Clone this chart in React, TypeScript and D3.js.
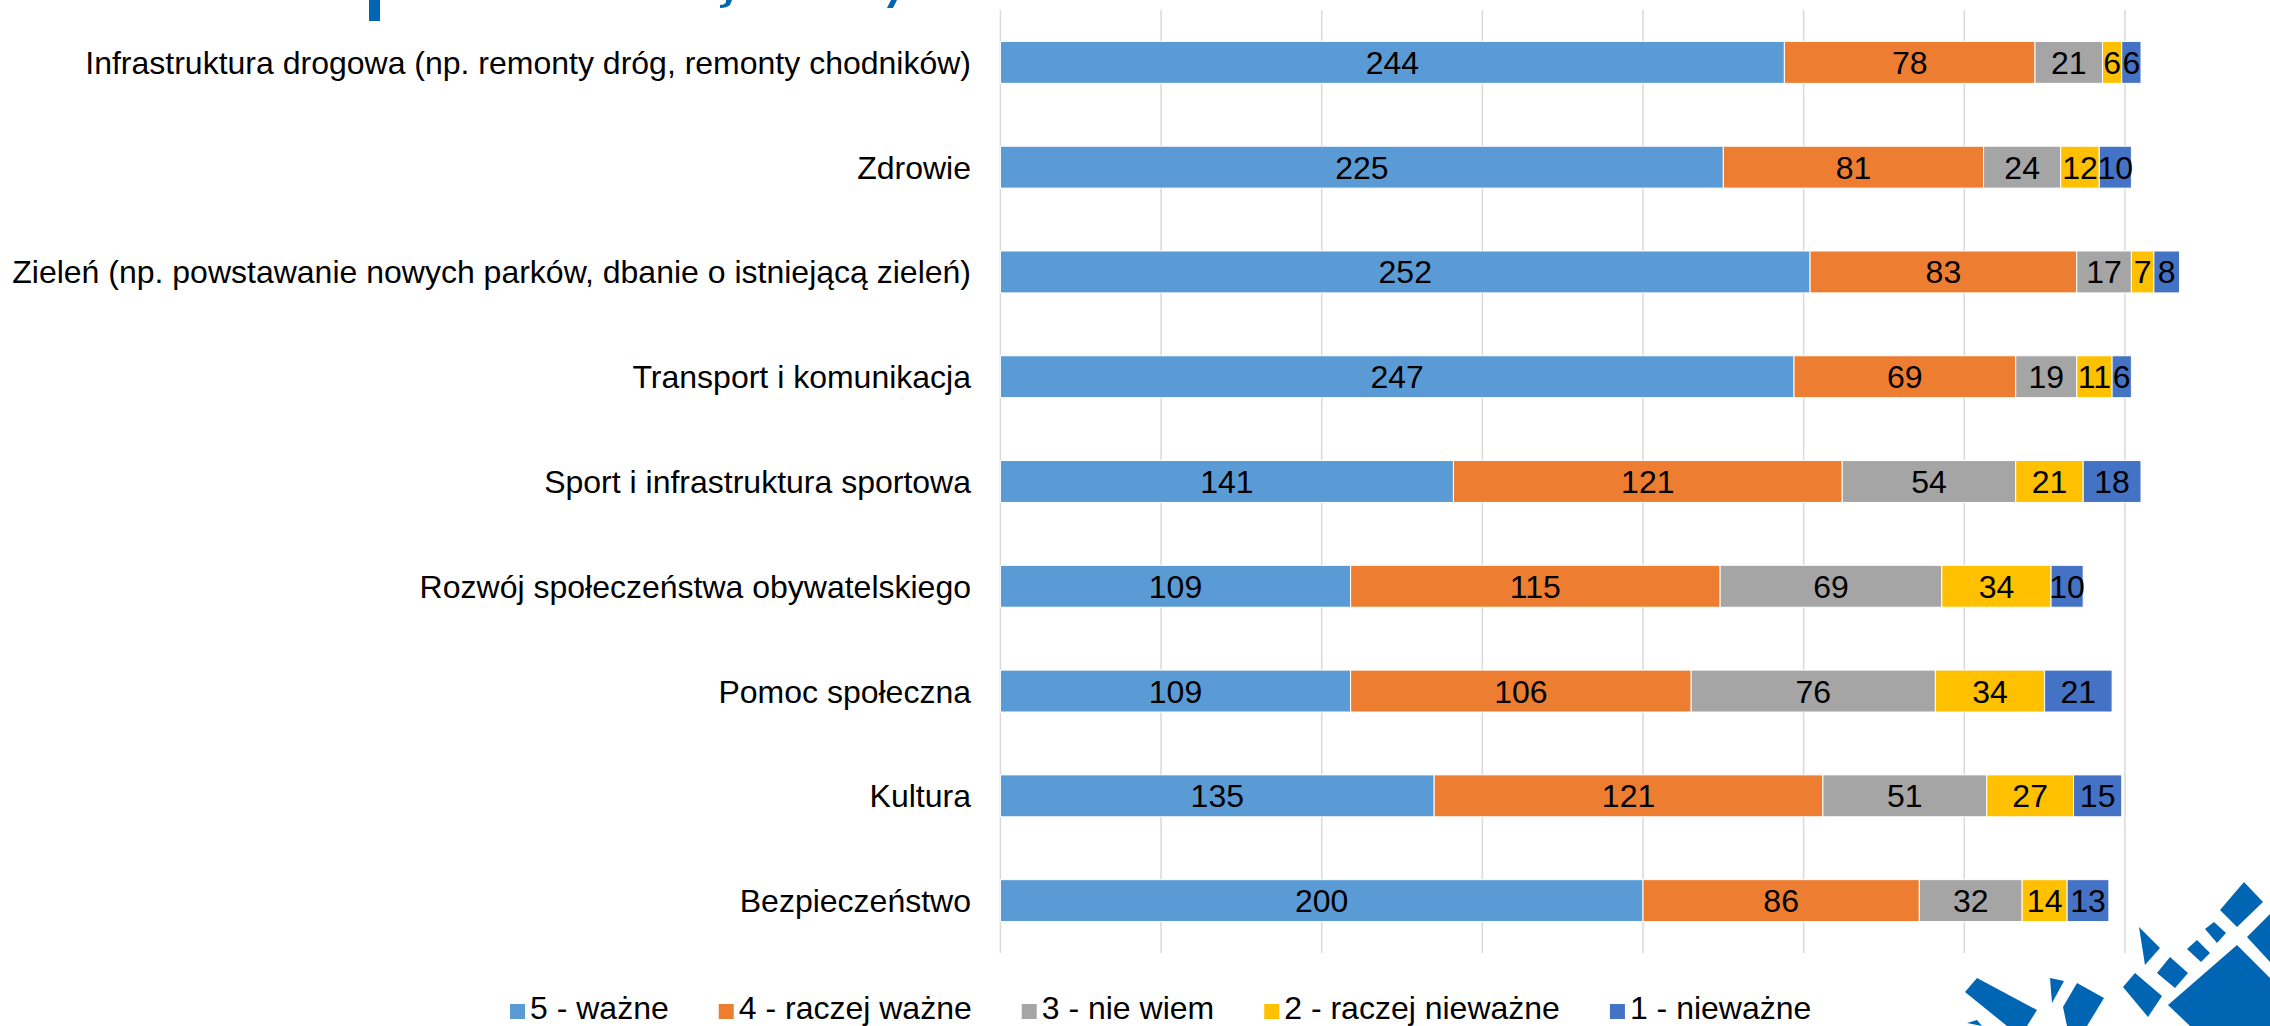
import * as d3 from "d3";

const categories = [
  "Infrastruktura drogowa (np. remonty dróg, remonty chodników)",
  "Zdrowie",
  "Zieleń (np. powstawanie nowych parków, dbanie o istniejącą zieleń)",
  "Transport i komunikacja",
  "Sport i infrastruktura sportowa",
  "Rozwój społeczeństwa obywatelskiego",
  "Pomoc społeczna",
  "Kultura",
  "Bezpieczeństwo",
];

const seriesNames = ["5 - ważne", "4 - raczej ważne", "3 - nie wiem", "2 - raczej nieważne", "1 - nieważne"];
const seriesColors = ["#5b9bd5", "#ed7d31", "#a5a5a5", "#ffc000", "#4472c4"];

const wazne = [244, 225, 252, 247, 141, 109, 109, 135, 200];
const raczejWazne = [78, 81, 83, 69, 121, 115, 106, 121, 86];
const nieWiem = [21, 24, 17, 19, 54, 69, 76, 51, 32];
const raczejNiewazne = [6, 12, 7, 11, 21, 34, 34, 27, 14];
const niewazne = [6, 10, 8, 6, 18, 10, 21, 15, 13];

const xTicks = [0, 50, 100, 150, 200, 250, 300, 350, 400];

const W = 2270;
const H = 1026;
const FONT = "'Liberation Sans', Arial, sans-serif";
const LOGO = "#0066b3";

function textWidth(s: string, size: number) {
  const ctx = document.createElement("canvas").getContext("2d")!;
  ctx.font = `${size}px ${FONT}`;
  return ctx.measureText(s).width;
}

export default function App() {
  const margin = { top: 10, bottom: 953, left: 1000.4 };

  const rows = categories.map((c, i) => ({
    category: c,
    values: [wazne[i], raczejWazne[i], nieWiem[i], raczejNiewazne[i], niewazne[i]],
  }));

  const x = d3.scaleLinear().domain([0, 400]).range([margin.left, margin.left + 400 * 3.213]);
  const y = d3
    .scaleBand()
    .domain(categories)
    .range([margin.top, margin.bottom])
    .paddingInner(0.6)
    .paddingOuter(0.3);

  const stack = d3
    .stack<number[]>()
    .keys(seriesNames.map((_, i) => String(i)))
    .value((d, k) => d[+k]);
  const stacked = stack(rows.map((r) => r.values));

  // legend layout
  const legendFont = 32;
  let lx = 510;
  const legendItems = seriesNames.map((name, i) => {
    const item = { name, color: seriesColors[i], x: lx };
    lx += 15 + 5 + textWidth(name, legendFont) + 50;
    return item;
  });

  return (
    <div style={{ position: "absolute", left: 0, top: 0 }}>
      <svg width={W} height={H} style={{ display: "block", background: "#fff" }} fontFamily={FONT}>
        {/* fragments of cut-off title */}
        <rect x={369} y={0} width={11} height={21} fill={LOGO} />
        <path d="M726,0 L732,0 L730,5 Q727,8 720,8 L720,5 Q725,5 726,2 Z" fill={LOGO} />
        <path d="M891,0 L897,0 L893,8 L887,8 Z" fill={LOGO} />

        {/* grid */}
        {xTicks.map((t) => (
          <line key={t} x1={x(t)} x2={x(t)} y1={margin.top} y2={margin.bottom} stroke="#d9d9d9" strokeWidth={1.5} />
        ))}

        {/* bars */}
        {stacked.map((layer, si) => (
          <g key={si} fill={seriesColors[si]}>
            {layer.map((d, ci) => (
              <rect
                key={ci}
                x={x(d[0])}
                y={y(categories[ci])!}
                width={x(d[1]) - x(d[0])}
                height={y.bandwidth()}
                stroke="#fff"
                strokeWidth={1}
              />
            ))}
          </g>
        ))}

        {/* value labels */}
        {stacked.map((layer, si) => (
          <g key={"l" + si} fontSize={32} fill="#000" textAnchor="middle">
            {layer.map((d, ci) => (
              <text key={ci} x={(x(d[0]) + x(d[1])) / 2} y={y(categories[ci])! + y.bandwidth() / 2} dy="0.36em">
                {d[1] - d[0]}
              </text>
            ))}
          </g>
        ))}

        {/* category labels */}
        <g fontSize={32} fill="#000" textAnchor="end">
          {categories.map((c) => (
            <text key={c} x={971} y={y(c)! + y.bandwidth() / 2} dy="0.36em">
              {c}
            </text>
          ))}
        </g>

        {/* legend */}
        <g fontSize={legendFont} fill="#000">
          {legendItems.map((it) => (
            <g key={it.name}>
              <rect x={it.x} y={1004} width={15} height={15} fill={it.color} />
              <text x={it.x + 20} y={1019}>
                {it.name}
              </text>
            </g>
          ))}
        </g>

        {/* logo */}
        <g fill={LOGO}>
          <polygon points="2244,882 2263,902 2237,927 2220,910" />
          <polygon points="2247,937 2270,914 2270,962" />
          <polygon points="2205,929 2214,922 2226,933 2217,943" />
          <polygon points="2187,949 2197,940 2210,953 2201,962" />
          <polygon points="2157,973 2170,957 2188,973 2175,988" />
          <polygon points="2139,927 2160,948 2145,965" />
          <polygon points="2168,1005 2237,945 2270,978 2270,1026 2190,1026" />
          <polygon points="2123,987 2135,973 2162,996 2148,1017" />
          <polygon points="2050,978 2064,981 2052,1003" />
          <polygon points="2063,1007 2077,983 2104,998 2087,1026 2067,1026" />
          <polygon points="1965,992 1977,978 2037,1010 2027,1026 2007,1026" />
          <polygon points="1967,1023 1977,1020 1982,1026" />
        </g>
      </svg>
    </div>
  );
}
